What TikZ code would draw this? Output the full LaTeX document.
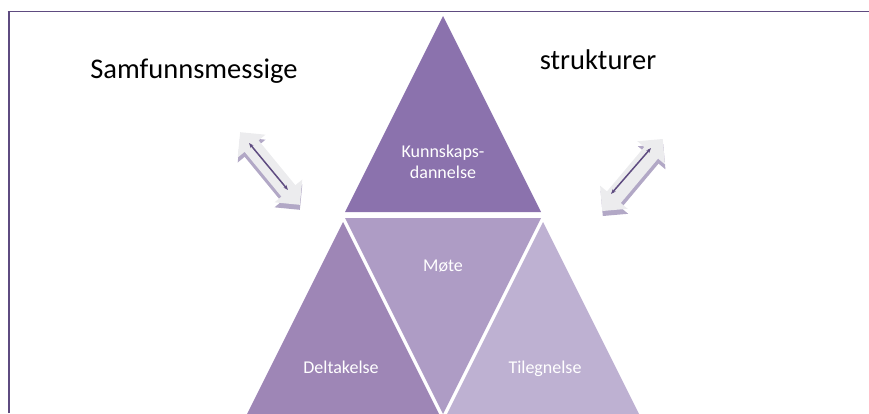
\documentclass[tikz,border=0pt]{standalone}
\usepackage{fontspec}
\setmainfont{Carlito}
\usetikzlibrary{arrows.meta}

\definecolor{frameviolet}{RGB}{94,75,128}
\definecolor{topviolet}{RGB}{139,114,173}
\definecolor{leftviolet}{RGB}{158,134,182}
\definecolor{midviolet}{RGB}{174,156,197}
\definecolor{rightviolet}{RGB}{190,177,210}
\definecolor{arrowgray}{RGB}{236,236,238}
\definecolor{shadowviolet}{RGB}{178,168,198}

\begin{document}
\begin{tikzpicture}[x=1pt, y=-1pt, 
    lbl/.style = {text=white, inner sep=0pt, align=center, font=\fontsize{18}{21}\selectfont},
    big/.style = {anchor=base, inner sep=0pt, font=\fontsize{28.5}{32}\selectfont},
    dblblock/.pic = {\path[pic actions] (-47,0) -- (-29,-18) -- (-29,-9) -- (29,-9) -- (29,-18) -- (47,0) -- (29,18) -- (29,9) -- (-29,9) -- (-29,18) -- cycle;},
    thinarrow/.style = {frameviolet, line width=1.5pt, {Stealth[length=5pt]}-{Stealth[length=5pt]}}] 
    \useasboundingbox (0,0) rectangle (869,413);
    \clip (0,0) rectangle (869,413);
    % frame
    \draw[frameviolet, line width=2pt] (8.5,413) -- (8.5,11);
    \draw[frameviolet, line width=1pt] (7.5,11) -- (869,11);
    % pyramid
    \fill[topviolet] (345,212) -- (443,16) -- (541,212) -- cycle;
    \fill[leftviolet] (245,418) -- (343,222) -- (441,418) -- cycle;
    \fill[midviolet] (345,218) -- (541,218) -- (443,414) -- cycle;
    \fill[rightviolet] (445,418) -- (543,222) -- (641,418) -- cycle;
    \node[lbl] (kunnskap) at (443,162) {Kunnskaps-\\dannelse};
    \node[lbl, anchor=base] (mote) at (443,271) {Møte};
    \node[lbl, anchor=base] (deltakelse) at (341,373) {Deltakelse};
    \node[lbl, anchor=base] (tilegnelse) at (545,373) {Tilegnelse};
    % headings
    \node[big] (samfunn) at (194,78) {Samfunnsmessige};
    \node[big] (strukturer) at (598,69) {strukturer};
    % block arrows with shadow
    \pic[fill=shadowviolet, rotate=-50.6] at (270,173.5) {dblblock};
    \pic[fill=arrowgray, rotate=-50.6] at (270,168.5) {dblblock};
    \pic[fill=shadowviolet, rotate=50] at (633,180) {dblblock};
    \pic[fill=arrowgray, rotate=50] at (632.5,175) {dblblock};
    \coordinate (l1) at (249,143);
    \coordinate (l2) at (288,190);
    \coordinate (r1) at (611,194);
    \coordinate (r2) at (651,148);
    \draw[thinarrow] (l1) -- (l2);
    \draw[thinarrow] (r1) -- (r2);
\end{tikzpicture}
\end{document}
